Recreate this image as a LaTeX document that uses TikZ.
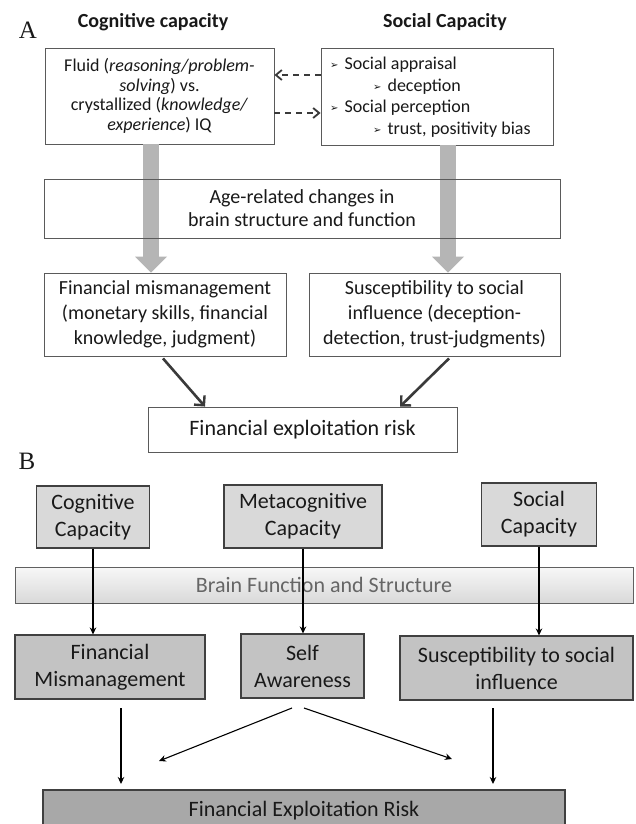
\documentclass[tikz,border=0pt]{standalone}
\usepackage{fontspec}
\setmainfont{Carlito}
\newfontfamily\labelfont{Liberation Serif}
\newfontfamily\dejavu{DejaVu Sans}
\usetikzlibrary{arrows.meta}
\definecolor{aborder}{HTML}{5A5A5A}
\definecolor{garrowc}{HTML}{B5B5B5}
\definecolor{darkc}{HTML}{3A3A3A}
\definecolor{bborder}{HTML}{404040}
\definecolor{fillone}{HTML}{D9D9D9}
\definecolor{filltwo}{HTML}{C3C3C3}
\definecolor{fillthree}{HTML}{A8A8A8}
\definecolor{bartext}{HTML}{666666}
\newcommand{\fs}[2]{\fontsize{#1}{#2}\selectfont}
\newcommand{\blt}{{\dejavu\fontsize{10}{10}\selectfont\raisebox{1pt}{➢}}}
\begin{document}
\begin{tikzpicture}[x=1pt,y=-1pt,
  abox/.style={draw=aborder, line width=0.9pt, inner sep=0pt, align=center, text=black!90},
  bbox/.style={draw=bborder, line width=1.1pt, inner sep=0pt, align=center, text=black!90, font=\fs{22}{27}},
  plain/.style={inner sep=0pt, text=black!90},
  garrow/.style={draw=garrowc, line width=16pt, -{Triangle[length=16pt,width=32pt,line width=0pt]}},
  darrow/.style={draw=darkc, line width=2pt, dash pattern=on 6pt off 5pt, -{Straight Barb[length=6pt,width=10pt,line width=1.8pt]}},
  karrow/.style={draw=darkc, line width=2.6pt, -{Straight Barb[length=7pt,width=14pt,line width=2.4pt]}},
  barrow/.style={draw=black, line width=1.6pt, -{Stealth[length=7pt,width=6.5pt]}},
  thinarrow/.style={draw=black, line width=1.1pt, -{Stealth[length=7pt,width=6.5pt]}}
]
\path[use as bounding box, clip] (0,0) rectangle (636,824);
\fill[white] (0,0) rectangle (636,824);

% ---------- Panel A ----------
\node[plain, font=\labelfont\fs{25}{25}] (labA) at (28,30) {A};
\node[plain, font=\bfseries\fs{20}{24}] (titC) at (153,22) {Cognitive capacity};
\node[plain, font=\bfseries\fs{20}{24}] (titS) at (445,22) {Social Capacity};

\node[abox, minimum width=229pt, minimum height=96pt, font=\fs{18}{19.7}] (fluid) at (159.5,96)
  {Fluid (\textit{reasoning/problem-}\\ \textit{solving}) vs.\\ crystallized (\textit{knowledge/}\\ \textit{experience}) IQ};
\node[abox, minimum width=232pt, minimum height=97pt] (social) at (437,96.5) {};
\node[plain, anchor=west, font=\fs{18}{20}] (s1) at (330,65) {\blt\hspace{6pt}Social appraisal};
\node[plain, anchor=west, font=\fs{18}{20}] (s2) at (373,87) {\blt\hspace{6pt}deception};
\node[plain, anchor=west, font=\fs{18}{20}] (s3) at (330,108) {\blt\hspace{6pt}Social perception};
\node[plain, anchor=west, font=\fs{18}{20}] (s4) at (373,130) {\blt\hspace{6pt}trust, positivity bias};

\draw[darrow] ([yshift=21.5pt]social.west) -- ([yshift=21pt]fluid.east);
\draw[darrow] ([yshift=-17pt]fluid.east) -- ([yshift=-16.5pt]social.west);

\node[abox, minimum width=242pt, minimum height=83pt, font=\fs{20}{25}] (finmis) at (165,314.5)
  {Financial mismanagement\\ (monetary skills, financial\\ knowledge, judgment)};
\node[abox, minimum width=251pt, minimum height=83pt, font=\fs{20}{25}] (suscA) at (434.5,314.5)
  {Susceptibility to social\\ influence (deception-\\ detection, trust-judgments)};

\draw[garrow] ([xshift=-8.5pt]fluid.south) -- ([xshift=-14pt]finmis.north);
\draw[garrow] ([xshift=11pt]social.south) -- ([xshift=13.5pt]suscA.north);

\node[abox, minimum width=516pt, minimum height=59pt, font=\fs{20}{23}] (age) at (302,208.5)
  {Age-related changes in\\ brain structure and function};

\node[abox, minimum width=309pt, minimum height=45pt, font=\fs{22}{26}] (riskA) at (302.5,429.5)
  {Financial exploitation risk};

\draw[karrow] ([xshift=-2pt,yshift=-2pt]finmis.south) -- ([xshift=-97.5pt]riskA.north);
\draw[karrow] ([xshift=14.5pt,yshift=-2pt]suscA.south) -- ([xshift=97.5pt]riskA.north);

% ---------- Panel B ----------
\node[plain, font=\labelfont\fs{25}{25}] (labB) at (27,461) {B};

\node[bbox, fill=fillone, minimum width=113pt, minimum height=62pt] (cog) at (93,517) {Cognitive\\ Capacity};
\node[bbox, fill=fillone, minimum width=158pt, minimum height=63pt] (meta) at (303,516.5) {Metacognitive\\ Capacity};
\node[bbox, fill=fillone, minimum width=115pt, minimum height=63pt] (soc) at (539,514.5) {Social\\ Capacity};

\node[draw=gray!75!black, line width=0.9pt, top color=gray!6, bottom color=gray!30, minimum width=618pt, minimum height=36pt,
      inner sep=0pt, text=bartext, font=\fs{22}{26}] (bar) at (324,585) {Brain Function and Structure};

\node[bbox, fill=filltwo, minimum width=190pt, minimum height=64pt] (fm) at (110,667) {Financial\\ Mismanagement};
\node[bbox, fill=filltwo, minimum width=123pt, minimum height=64pt] (sa) at (302.5,666) {Self\\ Awareness};
\node[bbox, fill=filltwo, minimum width=233pt, minimum height=64pt] (si) at (516.5,668) {Susceptibility to social\\ influence};

\node[bbox, fill=fillthree, minimum width=522pt, minimum height=42pt] (riskB) at (304,811) {Financial Exploitation Risk};

\draw[barrow] (cog.south) -- (cog.south |- fm.north);
\draw[barrow] (meta.south) -- (meta.south |- sa.north);
\draw[barrow] (soc.south) -- (soc.south |- si.north);

\coordinate (d1s) at (121,708);
\coordinate (d1e) at (121,784);
\coordinate (d2s) at (493,708);
\coordinate (d2e) at (493,784);
\coordinate (l1s) at (292,708);
\coordinate (l1e) at (159,761);
\coordinate (r1s) at (304,708);
\coordinate (r1e) at (452,759);

\draw[barrow] (d1s) -- (d1e);
\draw[barrow] (d2s) -- (d2e);
\draw[thinarrow] (l1s) -- (l1e);
\draw[thinarrow] (r1s) -- (r1e);
\end{tikzpicture}
\end{document}
